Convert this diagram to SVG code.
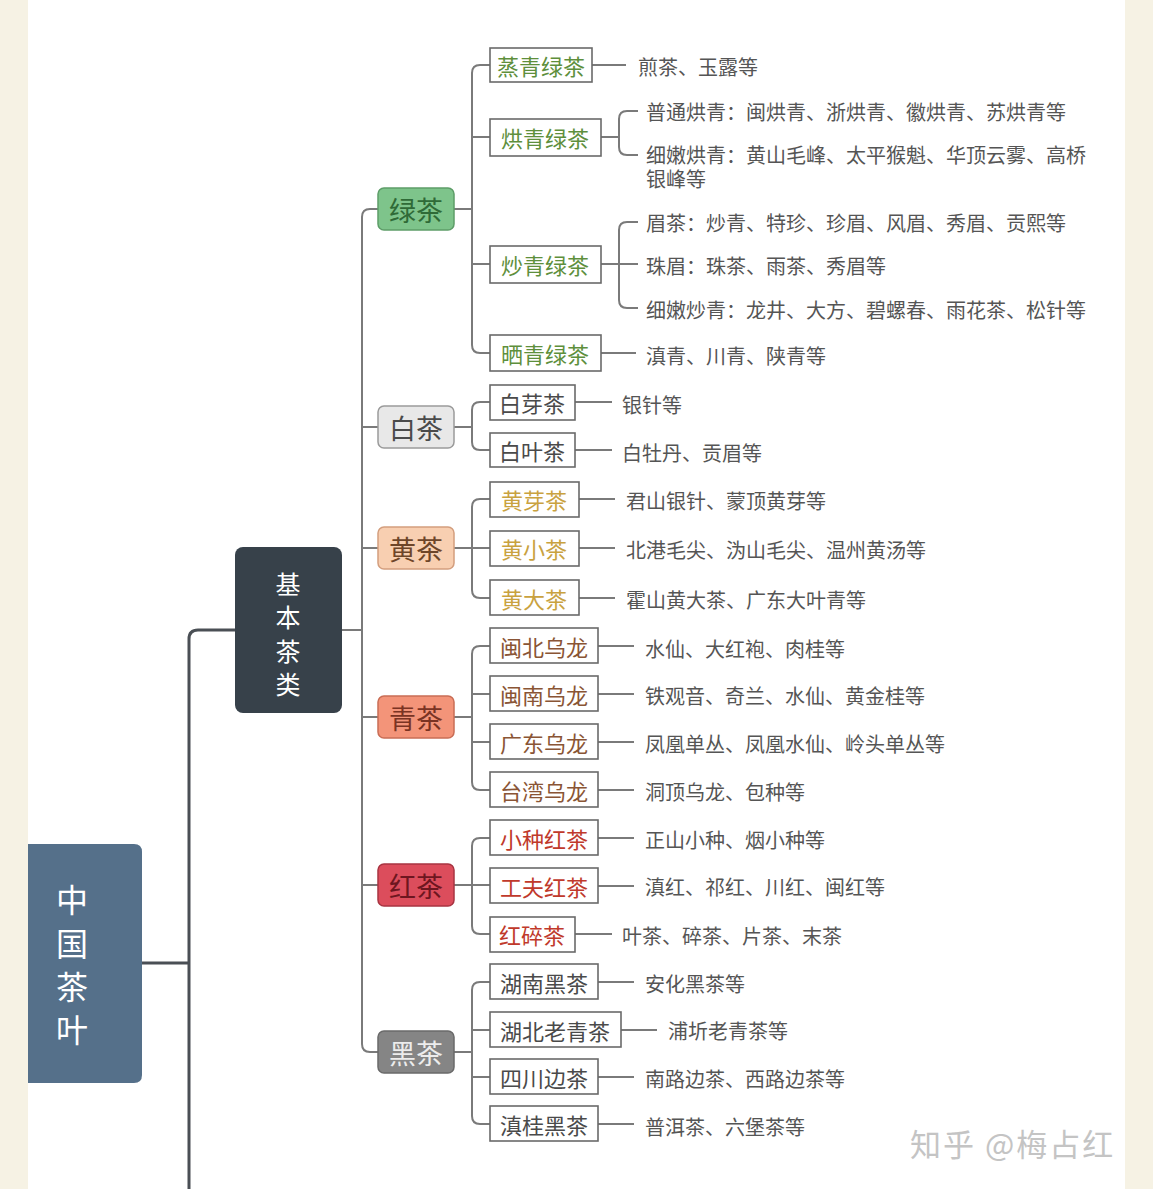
<svg xmlns="http://www.w3.org/2000/svg" width="1153" height="1189" viewBox="0 0 1153 1189">
<style>
text{font-family:"Noto Sans CJK SC","Noto Sans",sans-serif}
.c{fill:none;stroke:#7a7a7a;stroke-width:2}
.root{fill:none;stroke:#4a4f55;stroke-width:3}
.b3{fill:#fff;stroke:#6a6a6a;stroke-width:1.6}
.t3{font-size:22px;text-anchor:middle;dominant-baseline:central}
.t2{font-size:27px;text-anchor:middle;dominant-baseline:central}
.lf{font-size:20px;fill:#555;dominant-baseline:central}
.g{fill:#5e8f3c}.w{fill:#4a4a4a}.y{fill:#c9a23f}.o{fill:#8a5535}.r{fill:#c0392b}.k{fill:#4a4a4a}
</style>
<rect x="0" y="0" width="1153" height="1189" fill="#fff"/>
<rect x="0" y="0" width="28" height="1189" fill="#f6f2e4"/>
<rect x="1125" y="0" width="28" height="1189" fill="#f6f2e4"/>

<g id="connectors">
<path class="root" d="M142,963 H189"/>
<path class="root" d="M235,630 H198 Q189,630 189,639 V1189"/>
<path class="c" d="M342,630 H362"/>
<path class="c" d="M378,209 H370 Q362,209 362,217 V1044 Q362,1052 370,1052 H378 M362,427 H378 M362,548 H378 M362,717 H378 M362,885 H378"/>
<path class="c" d="M454,209 H472 M490,65 H480 Q472,65 472,73 V345 Q472,353 480,353 H490 M472,137 H490 M472,264 H490"/>
<path class="c" d="M592,65 H626"/>
<path class="c" d="M601,137 H619 M638,111 H627 Q619,111 619,119 V147 Q619,155 627,155 H638"/>
<path class="c" d="M601,264 H638 M638,222 H627 Q619,222 619,230 V300 Q619,308 627,308 H638"/>
<path class="c" d="M601,353 H636"/>
<path class="c" d="M454,427 H472 M490,402 H480 Q472,402 472,410 V442 Q472,450 480,450 H490"/>
<path class="c" d="M575,402 H612 M575,450 H612"/>
<path class="c" d="M454,548 H490 M490,499 H480 Q472,499 472,507 V590 Q472,598 480,598 H490"/>
<path class="c" d="M579,499 H615 M579,548 H615 M579,598 H615"/>
<path class="c" d="M454,717 H472 M490,646 H480 Q472,646 472,654 V782 Q472,790 480,790 H490 M472,694 H490 M472,742 H490"/>
<path class="c" d="M598,646 H634 M598,694 H634 M598,742 H634 M598,790 H634"/>
<path class="c" d="M454,885 H490 M490,838 H480 Q472,838 472,846 V926 Q472,934 480,934 H490"/>
<path class="c" d="M598,838 H634 M598,886 H634 M575,934 H612"/>
<path class="c" d="M454,1052 H472 M490,982 H480 Q472,982 472,990 V1116 Q472,1124 480,1124 H490 M472,1030 H490 M472,1077 H490"/>
<path class="c" d="M598,982 H634 M621,1030 H657 M598,1077 H634 M598,1124 H634"/>
</g>

<g id="root">
<path d="M28,844 H134 Q142,844 142,852 V1075 Q142,1083 134,1083 H28 Z" fill="#55708a"/>
<text x="72" y="898" font-size="32" fill="#fff" text-anchor="middle" dominant-baseline="central">中</text>
<text x="72" y="942" font-size="32" fill="#fff" text-anchor="middle" dominant-baseline="central">国</text>
<text x="72" y="985" font-size="32" fill="#fff" text-anchor="middle" dominant-baseline="central">茶</text>
<text x="72" y="1028" font-size="32" fill="#fff" text-anchor="middle" dominant-baseline="central">叶</text>
</g>

<g id="basic">
<rect x="235" y="547" width="107" height="166" rx="8" fill="#37414a"/>
<text x="288" y="583" font-size="25" fill="#fff" text-anchor="middle" dominant-baseline="central">基</text>
<text x="288" y="616" font-size="25" fill="#fff" text-anchor="middle" dominant-baseline="central">本</text>
<text x="288" y="650" font-size="25" fill="#fff" text-anchor="middle" dominant-baseline="central">茶</text>
<text x="288" y="683" font-size="25" fill="#fff" text-anchor="middle" dominant-baseline="central">类</text>
</g>

<g id="lvcha">
<rect x="378" y="188" width="76" height="42" rx="6" fill="#7ec48b" stroke="#5d9d68" stroke-width="1.5"/>
<text class="t2" x="416" y="209" fill="#2f6a37">绿茶</text>
</g>
<g id="baicha">
<rect x="378" y="406" width="76" height="42" rx="6" fill="#e8e8e8" stroke="#9a9a9a" stroke-width="1.5"/>
<text class="t2" x="416" y="427" fill="#4a4a4a">白茶</text>
</g>
<g id="huangcha">
<rect x="378" y="527" width="76" height="42" rx="6" fill="#f8cfb1" stroke="#d39e7e" stroke-width="1.5"/>
<text class="t2" x="416" y="548" fill="#6e4529">黄茶</text>
</g>
<g id="qingcha">
<rect x="378" y="696" width="76" height="42" rx="6" fill="#f39479" stroke="#c96d55" stroke-width="1.5"/>
<text class="t2" x="416" y="717" fill="#7a3323">青茶</text>
</g>
<g id="hongcha">
<rect x="378" y="864" width="76" height="42" rx="6" fill="#dc4d5c" stroke="#a83441" stroke-width="1.5"/>
<text class="t2" x="416" y="885" fill="#6e1620">红茶</text>
</g>
<g id="heicha">
<rect x="378" y="1031" width="76" height="42" rx="6" fill="#858585" stroke="#6a6a6a" stroke-width="1.5"/>
<text class="t2" x="416" y="1052" fill="#ececec">黑茶</text>
</g>

<g id="n-zhengqing"><rect class="b3" x="490" y="48" width="102" height="34"/><text class="t3 g" x="541" y="65">蒸青绿茶</text></g>
<g id="n-hongqing"><rect class="b3" x="490" y="119" width="111" height="37"/><text class="t3 g" x="545" y="137">烘青绿茶</text></g>
<g id="n-chaoqing"><rect class="b3" x="490" y="246" width="111" height="37"/><text class="t3 g" x="545" y="264">炒青绿茶</text></g>
<g id="n-shaiqing"><rect class="b3" x="490" y="335" width="111" height="36"/><text class="t3 g" x="545" y="353">晒青绿茶</text></g>

<g id="n-baiya"><rect class="b3" x="490" y="385" width="85" height="35"/><text class="t3 w" x="532" y="402">白芽茶</text></g>
<g id="n-baiye"><rect class="b3" x="490" y="433" width="85" height="34"/><text class="t3 w" x="532" y="450">白叶茶</text></g>

<g id="n-huangya"><rect class="b3" x="490" y="482" width="89" height="35"/><text class="t3 y" x="534" y="499">黄芽茶</text></g>
<g id="n-huangxiao"><rect class="b3" x="490" y="531" width="89" height="35"/><text class="t3 y" x="534" y="548">黄小茶</text></g>
<g id="n-huangda"><rect class="b3" x="490" y="580" width="89" height="35"/><text class="t3 y" x="534" y="598">黄大茶</text></g>

<g id="n-minbei"><rect class="b3" x="490" y="628" width="108" height="35"/><text class="t3 o" x="544" y="646">闽北乌龙</text></g>
<g id="n-minnan"><rect class="b3" x="490" y="676" width="108" height="35"/><text class="t3 o" x="544" y="694">闽南乌龙</text></g>
<g id="n-guangdong"><rect class="b3" x="490" y="724" width="108" height="35"/><text class="t3 o" x="544" y="742">广东乌龙</text></g>
<g id="n-taiwan"><rect class="b3" x="490" y="772" width="108" height="35"/><text class="t3 o" x="544" y="790">台湾乌龙</text></g>

<g id="n-xiaozhong"><rect class="b3" x="490" y="820" width="108" height="35"/><text class="t3 r" x="544" y="838">小种红茶</text></g>
<g id="n-gongfu"><rect class="b3" x="490" y="868" width="108" height="35"/><text class="t3 r" x="544" y="886">工夫红茶</text></g>
<g id="n-hongsui"><rect class="b3" x="490" y="917" width="85" height="35"/><text class="t3 r" x="532" y="934">红碎茶</text></g>

<g id="n-hunan"><rect class="b3" x="490" y="964" width="108" height="35"/><text class="t3 k" x="544" y="982">湖南黑茶</text></g>
<g id="n-hubei"><rect class="b3" x="490" y="1012" width="131" height="35"/><text class="t3 k" x="555" y="1030">湖北老青茶</text></g>
<g id="n-sichuan"><rect class="b3" x="490" y="1059" width="108" height="35"/><text class="t3 k" x="544" y="1077">四川边茶</text></g>
<g id="n-diangui"><rect class="b3" x="490" y="1106" width="108" height="35"/><text class="t3 k" x="544" y="1124">滇桂黑茶</text></g>

<g id="leaves">
<text class="lf" x="638" y="66">煎茶、玉露等</text>
<text class="lf" x="646" y="111">普通烘青：闽烘青、浙烘青、徽烘青、苏烘青等</text>
<text class="lf" x="646" y="154">细嫩烘青：黄山毛峰、太平猴魁、华顶云雾、高桥<tspan x="646" dy="24">银峰等</tspan></text>
<text class="lf" x="646" y="222">眉茶：炒青、特珍、珍眉、风眉、秀眉、贡熙等</text>
<text class="lf" x="646" y="265">珠眉：珠茶、雨茶、秀眉等</text>
<text class="lf" x="646" y="309">细嫩炒青：龙井、大方、碧螺春、雨花茶、松针等</text>
<text class="lf" x="646" y="355">滇青、川青、陕青等</text>
<text class="lf" x="622" y="404">银针等</text>
<text class="lf" x="622" y="452">白牡丹、贡眉等</text>
<text class="lf" x="626" y="500">君山银针、蒙顶黄芽等</text>
<text class="lf" x="626" y="549">北港毛尖、沩山毛尖、温州黄汤等</text>
<text class="lf" x="626" y="599">霍山黄大茶、广东大叶青等</text>
<text class="lf" x="645" y="648">水仙、大红袍、肉桂等</text>
<text class="lf" x="645" y="695">铁观音、奇兰、水仙、黄金桂等</text>
<text class="lf" x="645" y="743">凤凰单丛、凤凰水仙、岭头单丛等</text>
<text class="lf" x="645" y="791">洞顶乌龙、包种等</text>
<text class="lf" x="645" y="839">正山小种、烟小种等</text>
<text class="lf" x="645" y="886">滇红、祁红、川红、闽红等</text>
<text class="lf" x="622" y="935">叶茶、碎茶、片茶、末茶</text>
<text class="lf" x="645" y="983">安化黑茶等</text>
<text class="lf" x="668" y="1030">浦圻老青茶等</text>
<text class="lf" x="645" y="1078">南路边茶、西路边茶等</text>
<text class="lf" x="645" y="1126">普洱茶、六堡茶等</text>
</g>

<text x="910" y="1142" font-size="31" letter-spacing="2" fill="#c4c4c4" dominant-baseline="central">知乎 @梅占红</text>
</svg>
